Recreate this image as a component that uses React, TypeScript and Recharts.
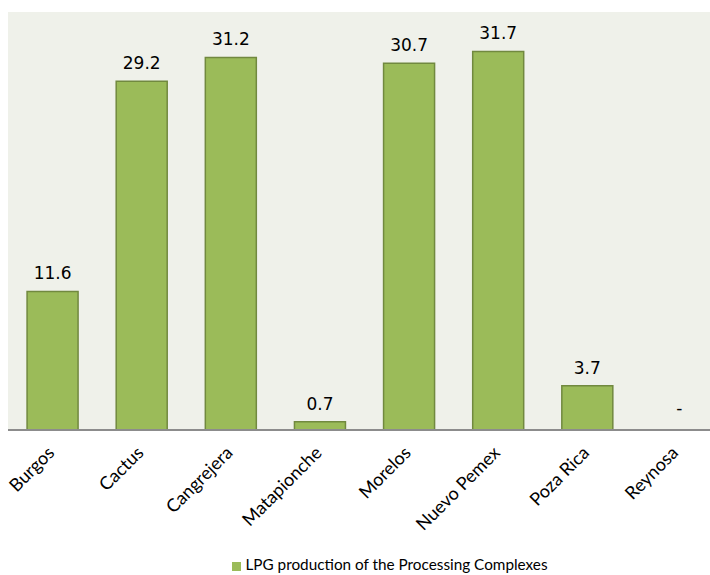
import { ComposedChart, Bar, Line, XAxis, YAxis, CartesianGrid, Legend, LabelList } from 'recharts'

const complexes = ['Burgos', 'Cactus', 'Cangrejera', 'Matapionche', 'Morelos', 'Nuevo Pemex', 'Poza Rica', 'Reynosa']
const lpgProduction = [11.6, 29.2, 31.2, 0.7, 30.7, 31.7, 3.7, 0]
const seriesName = 'LPG production of the Processing Complexes'

const rows = complexes.map((name, i) => ({ name, lpg: lpgProduction[i] }))

const labelFont = 'Lato, "Open Sans", sans-serif'
const valueFont = '"DejaVu Sans", sans-serif'

function SlantTick({ x, y, payload }: any) {
  const ax = x + 3
  const ay = y + 16
  return (
    <text x={ax} y={ay} textAnchor="end" fontFamily={labelFont} fontSize={18} fill="#000"
      transform={`rotate(-45, ${ax}, ${ay})`}>
      {payload.value}
    </text>
  )
}

function ValueLabel({ x, y, width, value }: any) {
  const v = Number(value)
  if (!v) return null
  return (
    <text x={x + width / 2} y={y - 12} textAnchor="middle" fill="#000" fontFamily={valueFont} fontSize={17}>
      {v.toFixed(1)}
    </text>
  )
}

// zero-height bars get no label from the bar, so the "-" comes off an invisible line
function ZeroLabel({ x, y, value }: any) {
  if (Number(value) !== 0) return null
  return (
    <text x={x + 3} y={y - 16} textAnchor="middle" fill="#000" fontFamily={valueFont} fontSize={17}>
      -
    </text>
  )
}

export default function App() {
  return (
    <div style={{ position: 'absolute', left: 0, top: 0, width: 710, height: 575, background: '#fff', overflow: 'hidden' }}>
      <ComposedChart width={710} height={575} data={rows} barCategoryGap="21.4%"
        margin={{ top: 12, right: -11, bottom: 0, left: 8 }}>
        <CartesianGrid fill="#eff1ea" horizontal={false} vertical={false} />
        <XAxis dataKey="name" interval={0} height={125} tickLine={false} tick={<SlantTick />}
          axisLine={{ stroke: '#8c8c8c', strokeWidth: 2 }} />
        <YAxis hide domain={[0, 35]} />
        <Legend verticalAlign="bottom" height={20} iconType="square" iconSize={9}
          wrapperStyle={{ left: 40, width: 710, fontFamily: labelFont, fontSize: 15.3, color: '#000' }}
          formatter={(v: string) => <span style={{ color: '#000' }}>{v}</span>} />
        <Bar dataKey="lpg" name={seriesName} fill="#9bbb59" stroke="#71893f" strokeWidth={1.5}
          isAnimationActive={false}>
          <LabelList dataKey="lpg" content={<ValueLabel />} />
        </Bar>
        <Line dataKey="lpg" stroke="none" dot={false} activeDot={false} legendType="none"
          label={<ZeroLabel />} isAnimationActive={false} />
      </ComposedChart>
    </div>
  )
}
